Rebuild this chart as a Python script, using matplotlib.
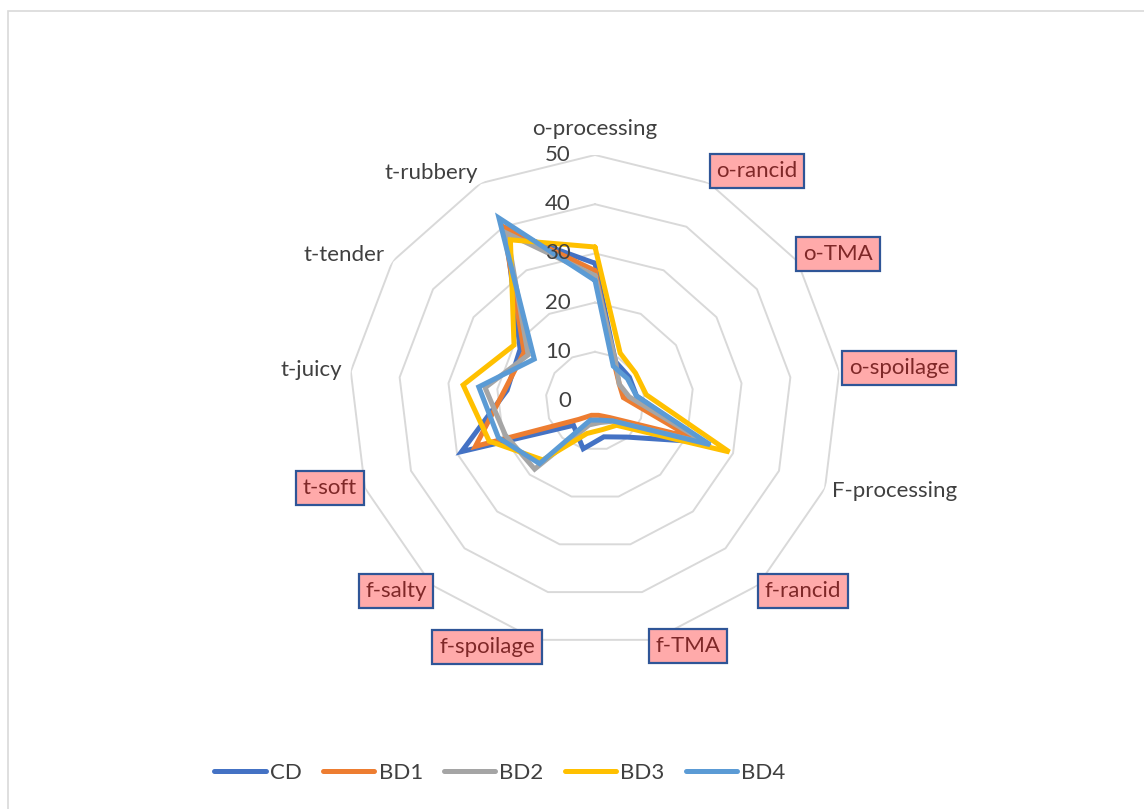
import numpy as np
import matplotlib
matplotlib.use('agg')
import matplotlib.pyplot as plt
from matplotlib.patches import Rectangle
from matplotlib.transforms import offset_copy

W, H = 1144, 809

categories = ['o-processing', 'o-rancid', 'o-TMA', 'o-spoilage', 'F-processing',
              'f-rancid', 'f-TMA', 'f-spoilage', 'f-salty', 't-soft',
              't-juicy', 't-tender', 't-rubbery']
flagged = ['o-rancid', 'o-TMA', 'o-spoilage', 'f-rancid', 'f-TMA',
           'f-spoilage', 'f-salty', 't-soft']

series_names = ['CD', 'BD1', 'BD2', 'BD3', 'BD4']
cd = [28, 9, 8.5, 8.5, 23.5, 9.8, 7.5, 10, 6.6, 29, 18, 18.5, 39]
bd1 = [26.5, 8.5, 6, 5.8, 21, 4.5, 3, 3, 5, 26, 18.5, 17.5, 40]
bd2 = [25.5, 9, 6, 7, 24.5, 5.5, 4.5, 5, 18.5, 19.5, 22.5, 16.5, 38.5]
bd3 = [31.3, 11, 10, 10.5, 29.2, 6.6, 6, 6.8, 16, 23, 27, 20, 37]
bd4 = [24.5, 8, 8, 8.5, 25, 5.4, 4, 4, 17, 21, 23.8, 15, 42]
rings = [10, 20, 30, 40, 50]
tick_values = [0, 10, 20, 30, 40, 50]

colors = ['#4472C4', '#ED7D31', '#A5A5A5', '#FFC000', '#5B9BD5']

# where each category name sits, in pixels from the top left
label_px = [(595, 129), (757, 171), (838, 254), (899, 368), (895, 491),
            (803, 591), (688, 646), (487, 647), (396, 591), (330, 488),
            (311, 370), (344, 255), (431, 173)]


def fig_xy(x, y):
    return x / W, 1 - y / H


plt.rcParams['font.family'] = ['Lato', 'DejaVu Sans']
FS = 16

fig = plt.figure(figsize=(W / 100, H / 100), dpi=100)
# chart area outline, running off the right and bottom edges
x0, y_top = fig_xy(8, 11)
fig.patches.append(Rectangle((x0, -0.5), 2, y_top + 0.5,
                             transform=fig.transFigure, fill=False,
                             edgecolor='#d9d9d9', linewidth=1.2, clip_on=False))

cx, cy, R = 595, 401, 246
ax = fig.add_axes([(cx - R) / W, 1 - (cy + R) / H, 2 * R / W, 2 * R / H],
                  projection='polar')
ax.set_theta_offset(np.pi / 2)
ax.set_theta_direction(-1)
ax.set_ylim(0, 50)
ax.grid(False)
ax.spines['polar'].set_visible(False)
ax.set_xticks([])
ax.set_yticks([])
ax.patch.set_visible(False)

n = len(categories)
theta = np.arange(n + 1) * 2 * np.pi / n

for r in rings:
    ax.plot(theta, [r] * (n + 1), color='#d9d9d9', lw=1.4, zorder=1)

for name, vals, c in zip(series_names, [cd, bd1, bd2, bd3, bd4], colors):
    ax.plot(theta, vals + vals[:1], color=c, lw=3.6, solid_joinstyle='miter',
            solid_capstyle='round', label=name, zorder=3)

# value labels sit on top of the series lines
tick_tr = offset_copy(ax.transData, fig=fig, x=-24, y=0, units='dots')
for v in tick_values:
    ax.text(0, v, str(v), transform=tick_tr, ha='right', va='center',
            fontsize=FS, color='#404040', zorder=5)

for cat, (x, y) in zip(categories, label_px):
    fx, fy = fig_xy(x, y)
    if cat in flagged:
        fig.text(fx, fy, cat, ha='center', va='center', fontsize=FS,
                 color='#7f2828',
                 bbox=dict(boxstyle='square,pad=0.3', facecolor='#ffaaaa',
                           edgecolor='#2f5597', linewidth=1.6))
    else:
        fig.text(fx, fy, cat, ha='center', va='center', fontsize=FS,
                 color='#404040')

handles, labels = ax.get_legend_handles_labels()
leg = fig.legend(handles, labels, loc='center', bbox_to_anchor=fig_xy(500, 773),
                 ncol=5, frameon=False, fontsize=FS, handlelength=2.3,
                 handletextpad=0.2, columnspacing=0.95)
for t in leg.get_texts():
    t.set_color('#404040')

fig.savefig('out.png', dpi=100)
